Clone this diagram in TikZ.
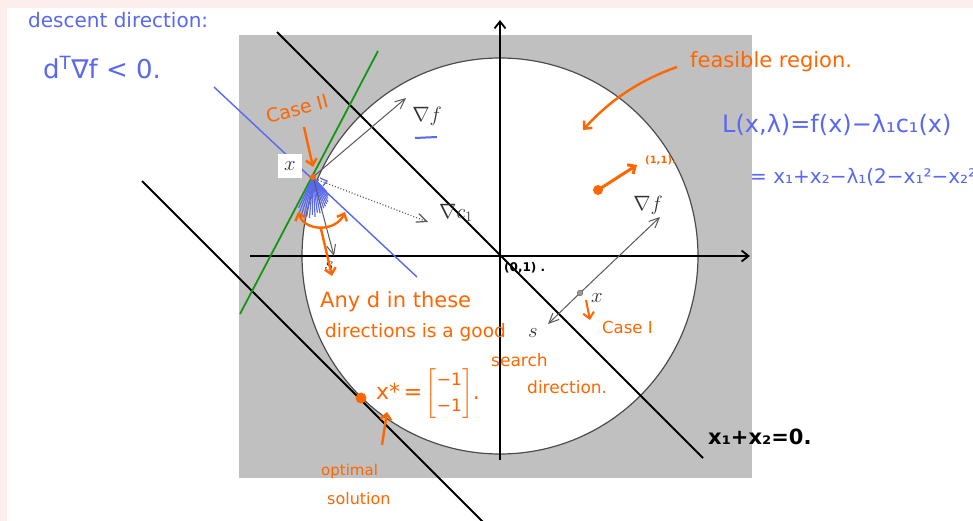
\documentclass[tikz,border=0pt]{standalone}
\usepackage{amsmath}
\usepackage{fontspec}
\usepackage{tikz}
\newfontfamily\handfont{DejaVu Sans}
\usetikzlibrary{arrows.meta,positioning}
\definecolor{penorange}{RGB}{255,102,0}
\definecolor{penblue}{RGB}{88,104,240}
\definecolor{region}{RGB}{192,192,192}
\definecolor{paper}{RGB}{253,238,238}
\definecolor{tangentgreen}{RGB}{20,150,20}
\newcommand{\handsize}[1]{\handfont\fontsize{#1}{#1}\selectfont}

\begin{document}
\begin{tikzpicture}[x=1pt, y=-1pt,
    axis/.style={line width=1.8pt, -{Straight Barb[length=7pt,width=11pt]}},
    level/.style={line width=1.8pt},
    vec/.style={draw=black!65, line width=1pt, -{Straight Barb[length=10pt,width=9pt]}},
    ink/.style={penorange, line width=2.4pt, -{Straight Barb[length=6pt,width=11pt]}},
    note/.style={text=penorange, inner sep=0pt, anchor=west},
    bluenote/.style={text=penblue, inner sep=0pt, anchor=west},
    lbl/.style={font=\fontsize{22}{22}\selectfont, inner sep=1pt, text=black!80}
]
\useasboundingbox (0,0) rectangle (973,521);
\fill[paper] (0,0) rectangle (973,521);
\fill[white] (7,8) rectangle (973,521);
\fill[region] (239,35) rectangle (752,478);
\coordinate (O) at (500,256);
\fill[white] (O) circle (198pt);
\draw[black!70, line width=1.2pt] (O) circle (198pt);

\draw[axis] (250,256) -- (750,256);
\draw[axis] (500,460) -- (500,20);
\draw[level] (277,32) -- (703,458);
\draw[level] (142,181) -- (483,522);

\coordinate (xa) at (313,177);
\draw[tangentgreen, line width=1.8pt] (378,51) -- (240,314);
\draw[penblue, line width=1.4pt] (214,87) -- (417,277);
\foreach \a/\r in {-115/34,-111/38,-107/41,-103/42,-99/40,-95/41,-91/38,-87/40,-83/36,-79/37,-75/34,-71/33,-67/32,-63/30,-59/29,-55/26,-51/24,-47/20}
    \draw[penblue, line width=1.2pt] (xa) -- ++(\a:\r pt);
\draw[penblue, line width=1.2pt] (320,178) -- (327,181) -- (323,186);

\node[fill=white, lbl, minimum width=24pt, minimum height=24pt, inner sep=0pt] (xlabel) at (290,166) {$x$};
\node[lbl] (gradf) at (427,116) {$\nabla f$};
\node[lbl] (gradc) at (456,213) {$\nabla c_1$};
\node[lbl] (sleft) at (329,266) {$s$};
\coordinate (gftip) at (406,98);
\coordinate (gctip) at (428,222);
\coordinate (stip) at (334,256);
\draw[vec] (xa) -- (gftip);
\draw[vec, dotted, line width=1.2pt] (318,180) -- (gctip);
\draw[vec] (xa) -- (stip);
\draw[penblue, line width=2pt] (415,138) -- (437,137);
\fill[penorange] (xa) circle (3pt);

\coordinate (xb) at (580,293);
\coordinate (gfright) at (660,217);
\coordinate (sright) at (548,324);
\draw[vec] (xb) -- (gfright);
\draw[vec] (xb) -- (sright);
\draw[black!65, fill=black!40] (xb) circle (2.8pt);
\node[lbl] (gradfb) at (648,205) {$\nabla f$};
\node[lbl] (xbl) at (597,298) {$x$};
\node[lbl] (sb) at (533,333) {$s$};

\node[inner sep=0pt, anchor=west, font=\handsize{12}\bfseries] (orig) at (504,268) {(0,1) .};
\node[inner sep=0pt, anchor=west, font=\handsize{21}\bfseries] (line0) at (708,437) {x₁+x₂=0.};

\node[bluenote, font=\handsize{20}] (descent) at (28,20) {descent direction:};
\node[bluenote, font=\handsize{26}] (dgrad) at (43,68) {d\textsuperscript{T}∇f < 0.};
\node[bluenote, font=\handsize{24}] (lagr) at (722,125) {L(x,λ)=f(x)−λ₁c₁(x)};
\node[bluenote, font=\handsize{20}] (lagr2) at (750,177) {= x₁+x₂−λ₁(2−x₁²−x₂²)};

\node[note, font=\handsize{19}, rotate=15, anchor=center] (case2) at (297,109) {Case II};
\draw[ink] (304,127) -- (313,167);
\coordinate (arcl) at (298,212);
\coordinate (arcr) at (345,212);
\coordinate (arcb) at (321,229);
\draw[penorange, line width=2.4pt, {Straight Barb[length=6pt,width=11pt]}-{Straight Barb[length=6pt,width=11pt]}]
    (arcl) .. controls (305,232) and (336,232) .. (arcr);
\draw[ink] (arcb) -- (332,276);
\node[note, font=\handsize{21}] (any) at (320,302) {Any d in these};
\node[note, font=\handsize{18.5}] (dirs) at (325,332) {directions is a good};
\node[note, font=\handsize{17}] (search) at (491,360) {search};
\node[note, font=\handsize{17}] (dirn) at (527,387) {direction.};

\node[note, font=\handsize{21}] (feas) at (690,62) {feasible region.};
\coordinate (feasarrow) at (583,130);
\draw[ink] (677,67) .. controls (640,80) and (610,100) .. (feasarrow);
\coordinate (dot11) at (598,190);
\fill[penorange] (dot11) circle (5pt);
\draw[ink, line width=3pt] (dot11) -- (637,165);
\node[note, font=\handsize{10}\bfseries] (pt11) at (645,160) {(1,1).};

\node[note, font=\handsize{16.5}] (case1) at (602,327) {Case I};
\draw[ink, line width=2pt] (586,300) -- (590,320);

\coordinate (xstar) at (361,398);
\fill[penorange] (xstar) circle (5.5pt);
\node[note, font=\handsize{22}] (xsol) at (376,394)
    {x*\,=\,$\left[\begin{array}{@{}c@{}}\mbox{\handsize{17}−1}\\[4pt]\mbox{\handsize{17}−1}\end{array}\right]$.};
\draw[ink] (382,445) -- (387,412);
\node[note, font=\handsize{15}] (optimal) at (321,471) {optimal};
\node[note, font=\handsize{16}] (solution) at (327,499) {solution};
\end{tikzpicture}
\end{document}
